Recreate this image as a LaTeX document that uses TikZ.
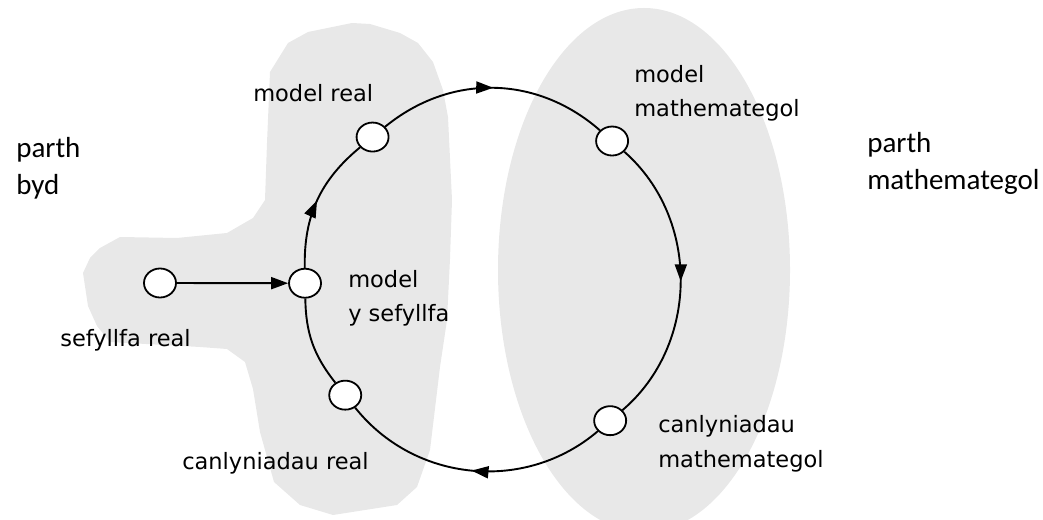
\documentclass[tikz,border=0pt]{standalone}
\usepackage{fontspec}
\newfontfamily\labelfont{DejaVu Sans}
\newfontfamily\zonefont{Carlito}
\usetikzlibrary{shapes.geometric, arrows.meta, decorations.markings}
\definecolor{zonegray}{RGB}{232,232,232}
\tikzset{stage/.style={ellipse, draw, fill=white, line width=1.8pt, minimum width=32pt, minimum height=29pt, inner sep=0pt}}
\tikzset{lbl/.style={anchor=base west, align=left, font=\labelfont\fontsize{22.5}{34.5}\selectfont}}
\tikzset{zonelbl/.style={anchor=base west, align=left, font=\zonefont\fontsize{29}{37.5}\selectfont}}
\tikzset{midarr/.style={decoration={markings, mark=at position #1 with {\arrow{Triangle[length=17pt,width=12pt]}}}, postaction={decorate}}}

\begin{document}
\begin{tikzpicture}[x=1pt, y=1pt, line width=1.9pt]
\useasboundingbox (0,0) rectangle (1043,519);
% shaded parts
\fill[zonegray] (433,457) -- (443,429) -- (448,402) -- (452,319) -- (450,260) -- (447,199) -- (440,152) -- (430,69) -- (417,32) -- (397,14) -- (333,4) -- (300,14) -- (274,37) -- (260,87) -- (253,130) -- (245,157) -- (227,170) -- (200,172) -- (110,177) -- (97,193) -- (88,213) -- (83,246) -- (90,261) -- (100,271) -- (120,282) -- (177,281) -- (227,286) -- (253,301) -- (265,319) -- (267,376) -- (270,447) -- (288,476) -- (308,487) -- (352,496) -- (370,495) -- (400,486) -- (418,476) -- cycle;
\fill[zonegray] (644,249) ellipse [x radius=146pt, y radius=262pt];
% the cycle
\coordinate (cyc) at (490,239);
\node[stage] (mreal) at ([shift={(129.4:185pt)}]cyc) {};
\node[stage] (mmath) at ([shift={(48.7:185pt)}]cyc) {};
\node[stage] (cmath) at ([shift={(-49.5:185pt)}]cyc) {};
\node[stage] (creal) at ([shift={(218.5:185pt)}]cyc) {};
\node[stage] (ysef) at ([shift={(181:185pt)}]cyc) {};
\node[stage] (sreal) at (160,236) {};
\draw[midarr=0.5] (ysef) to[bend left=25.8] (mreal);
\draw[midarr=0.5] (mreal) to[bend left=40.3] (mmath);
\draw[midarr=0.5] (mmath) to[bend left=49.1] (cmath);
\draw[midarr=0.5] (cmath) to[bend left=46] (creal);
\draw (creal) to[bend left=18.7] (ysef);
\draw[-{Triangle[length=17pt,width=12pt]}] (sreal) -- (ysef);
% labels (base = last line)
\node[lbl] (mrealtxt) at (249,417) {model real};
\node[lbl] (mmathtxt) at (630,402) {model\\mathemategol};
\node[lbl] (ysaftxt) at (344,197) {model\\y sefyllfa};
\node[lbl] (srealtxt) at (56,172) {sefyllfa real};
\node[lbl] (crealtxt) at (178,49) {canlyniadau real};
\node[lbl] (cmathtxt) at (654,52) {canlyniadau\\mathemategol};
\node[zonelbl] (bydtxt) at (12,324) {parth\\byd};
\node[zonelbl] (mathtxt) at (863,329) {parth\\mathemategol};
\end{tikzpicture}
\end{document}
